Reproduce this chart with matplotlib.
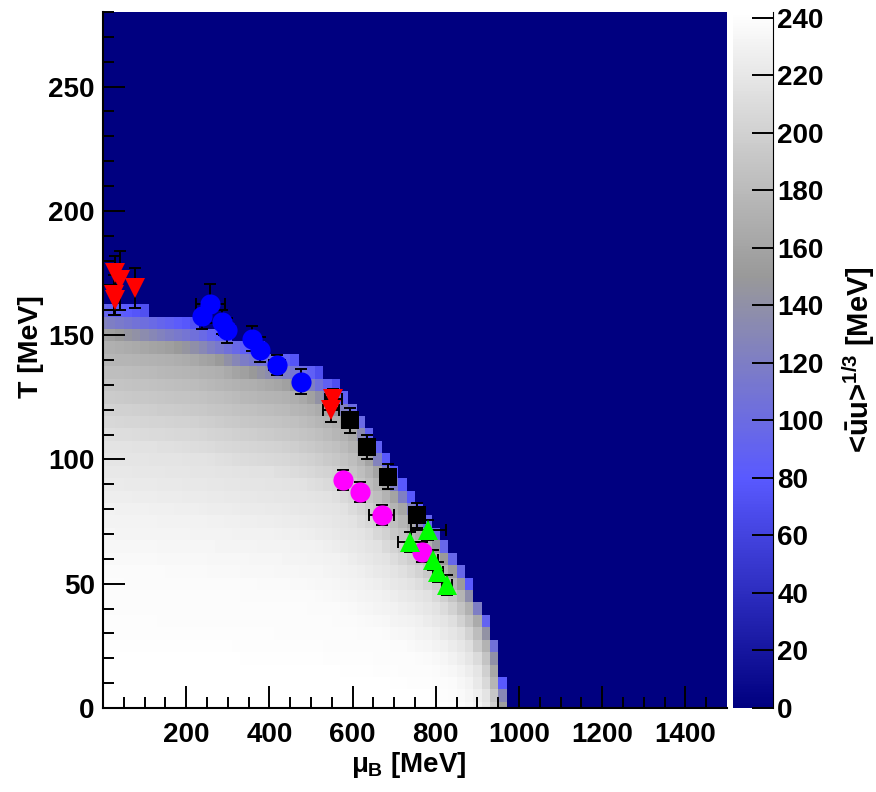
import numpy as np
import matplotlib
matplotlib.use('Agg')
import matplotlib.pyplot as plt
from matplotlib.colors import LinearSegmentedColormap
from matplotlib.ticker import MultipleLocator

plt.rcParams['font.family'] = ['Liberation Sans', 'DejaVu Sans']
plt.rcParams['font.weight'] = 'bold'
plt.rcParams['mathtext.fontset'] = 'custom'
plt.rcParams['mathtext.rm'] = 'Liberation Sans:bold'
plt.rcParams['mathtext.it'] = 'Liberation Sans:bold'
plt.rcParams['mathtext.bf'] = 'Liberation Sans:bold'

# ---------------- data ----------------
# grid of the model calculation (cell centres)
mu_centers = np.arange(0, 1501, 20)
T_centers = np.arange(0, 281, 5)

# chiral phase boundary (mu_B [MeV], T [MeV])
bound_mu = [0, 100, 225, 300, 345, 440, 500, 540, 580, 610, 630, 645, 665, 680,
            700, 720, 740, 760, 785, 805, 825, 845, 865, 880, 895, 910, 922, 932,
            945, 950, 955, 960, 968, 972]
bound_T = [164, 160.3, 155.3, 150.5, 147, 142.5, 137.5, 132.5, 127.5, 122, 116, 111, 106, 101,
           96, 91, 86, 81, 76, 71, 66, 61, 56, 51, 46, 41, 36, 31,
           26, 21, 16, 11, 6, 0]

# condensate iso-levels: value, fraction of T_c along mu=0, fraction of mu_c along T=0
lev_val = [70, 100, 125, 155, 170, 185, 200, 215, 230, 238, 242]
lev_a = [1.0, 0.97, 0.945, 0.92, 0.89, 0.82, 0.74, 0.66, 0.49, 0.34, 0.12]
lev_b = [1.0, 0.996, 0.992, 0.988, 0.982, 0.975, 0.967, 0.957, 0.93, 0.895, 0.845]

# data points (mu_B, T, errors)
red_mu = [30, 40, 26, 30, 78, 554, 548]
red_T = [175, 172, 166, 164, 169, 124.5, 120]
red_ex = [0, 0, 0, 0, 0, 20, 20]
red_ey = [7, 12, 8, 6, 8, 4, 5]

blue_mu = [258, 238, 286, 298, 358, 378, 418, 476]
blue_T = [162.7, 157.6, 155.3, 152, 148.6, 144.2, 138, 131.2]
blue_ex = [35, 0, 0, 20, 0, 0, 20, 0]
blue_ey = [8, 5, 5, 5, 5, 5, 4, 5]

mag_mu = [578, 618, 670, 768]
mag_T = [91.7, 87, 77.6, 62.8]
mag_ex = [0, 0, 30, 0]
mag_ey = [4, 4, 4, 4]

blk_mu = [594, 634, 686, 754]
blk_T = [115.8, 105, 93, 77.6]
blk_ex = [0, 0, 0, 0]
blk_ey = [5, 5, 5, 5]

grn_mu = [782, 738, 794, 806, 826]
grn_T = [71.6, 66.9, 59.5, 54.8, 49.5]
grn_ex = [42, 28, 12, 12, 12]
grn_ey = [4, 4, 4, 4, 4]

cbar_ticks = list(range(0, 241, 20))

# ---------------- field from iso-levels ----------------
bmu = np.array(bound_mu, float)
bT = np.array(bound_T, float)
MU0 = bmu[-1]
T0 = bT[0]


def Tc(m):
    return np.interp(m, bmu, bT, right=0.0)


MM, TT = np.meshgrid(mu_centers, T_centers)
px = MM / MU0
py = TT / T0
pr = np.hypot(px, py)
pth = np.arctan2(py, px)

rho = []
for a, b in zip(lev_a, lev_b):
    m = np.linspace(0, b * MU0, 600)
    t = a * Tc(m / b)
    x = m / MU0
    y = t / T0
    th = np.arctan2(y, x)
    R = np.hypot(x, y)
    o = np.argsort(th)
    Rth = np.interp(pth, th[o], R[o])
    rho.append(pr / np.maximum(Rth, 1e-9))
rho = np.array(rho)

Z = np.zeros_like(pr)
nl = len(lev_val)
for j in range(Z.shape[0]):
    for k in range(Z.shape[1]):
        r = rho[:, j, k]
        if r[0] >= 1:
            Z[j, k] = 0.0
            continue
        if r[-1] < 1:
            Z[j, k] = lev_val[-1]
            continue
        for i in range(nl - 1):
            if r[i] < 1 <= r[i + 1]:
                w = (1 - r[i]) / (r[i + 1] - r[i])
                Z[j, k] = lev_val[i] + (lev_val[i + 1] - lev_val[i]) * w
                break

mu_edges = np.concatenate([[0], (mu_centers[:-1] + mu_centers[1:]) / 2, [1500]])
T_edges = np.concatenate([[0], (T_centers[:-1] + T_centers[1:]) / 2, [280]])

cmap = LinearSegmentedColormap.from_list(
    'root', [(0.0, (0.0, 0.0, 0.5)), (0.33, (0.35, 0.35, 1.0)),
             (0.62, (0.6, 0.6, 0.6)), (1.0, (1.0, 1.0, 1.0))])

# ---------------- figure ----------------
fig = plt.figure(figsize=(8.76, 7.92), dpi=100)
ax = fig.add_axes([103 / 876, 1 - 708 / 792, 624 / 876, 696 / 792])
cax = fig.add_axes([733 / 876, 1 - 708 / 792, 40 / 876, 696 / 792])

VMAX = 242
pm = ax.pcolormesh(mu_edges, T_edges, Z, cmap=cmap, vmin=0, vmax=VMAX,
                   shading='flat', rasterized=True)
ax.set_xlim(0, 1500)
ax.set_ylim(0, 280)

ekw = dict(fmt='none', ecolor='black', elinewidth=1.4, capsize=4, capthick=1.4, zorder=3)
mkw = dict(linestyle='none', zorder=4, markeredgewidth=0)
ax.errorbar(blk_mu, blk_T, xerr=blk_ex, yerr=blk_ey, **ekw)
ax.plot(blk_mu, blk_T, marker='s', color='black', markersize=13, **mkw)
ax.errorbar(mag_mu, mag_T, xerr=mag_ex, yerr=mag_ey, **ekw)
ax.plot(mag_mu, mag_T, marker='o', color='#ff00ff', markersize=14.5, **mkw)
ax.errorbar(grn_mu, grn_T, xerr=grn_ex, yerr=grn_ey, **ekw)
ax.plot(grn_mu, grn_T, marker='^', color='#00ff00', markersize=14, **mkw)
ax.errorbar(blue_mu, blue_T, xerr=blue_ex, yerr=blue_ey, **ekw)
ax.plot(blue_mu, blue_T, marker='o', color='#0000ff', markersize=14.5, **mkw)
ax.errorbar(red_mu, red_T, xerr=red_ex, yerr=red_ey, **ekw)
ax.plot(red_mu, red_T, marker='v', color='#ff0000', markersize=14, **mkw)

ax.xaxis.set_major_locator(MultipleLocator(200))
ax.xaxis.set_minor_locator(MultipleLocator(50))
ax.yaxis.set_major_locator(MultipleLocator(50))
ax.yaxis.set_minor_locator(MultipleLocator(10))
ax.tick_params(which='both', direction='in', width=1.4, labelsize=20, top=False, right=False)
ax.tick_params(which='major', length=15.5)
ax.tick_params(which='minor', length=8)
ax.tick_params(axis='x', pad=10)
ax.tick_params(axis='y', pad=6)
ax.set_xticks([200, 400, 600, 800, 1000, 1200, 1400])
ax.set_xticks(np.arange(50, 1500, 50), minor=True)
for s in ['top', 'right']:
    ax.spines[s].set_visible(False)
for s in ['left', 'bottom']:
    ax.spines[s].set_linewidth(1.5)

ax.set_xlabel(r'$\mu_{B}$ [MeV]', fontsize=20, fontweight='bold')
ax.xaxis.set_label_coords(0.49, -0.06)
ax.set_ylabel('T [MeV]', fontsize=20.5, fontweight='bold')
ax.yaxis.set_label_coords(-0.095, 0.52)

cb = fig.colorbar(pm, cax=cax)
cb.set_ticks(cbar_ticks)
cb.outline.set_linewidth(0)
cax.tick_params(direction='in', length=15, width=1.4, labelsize=20, pad=3)
cax.spines['right'].set_visible(True)
cb.set_label(r'<$\bar{\mathrm{u}}$u>$^{1/3}$ [MeV]', fontsize=21, fontweight='bold', labelpad=12)

fig.savefig('out.png', dpi=100)
